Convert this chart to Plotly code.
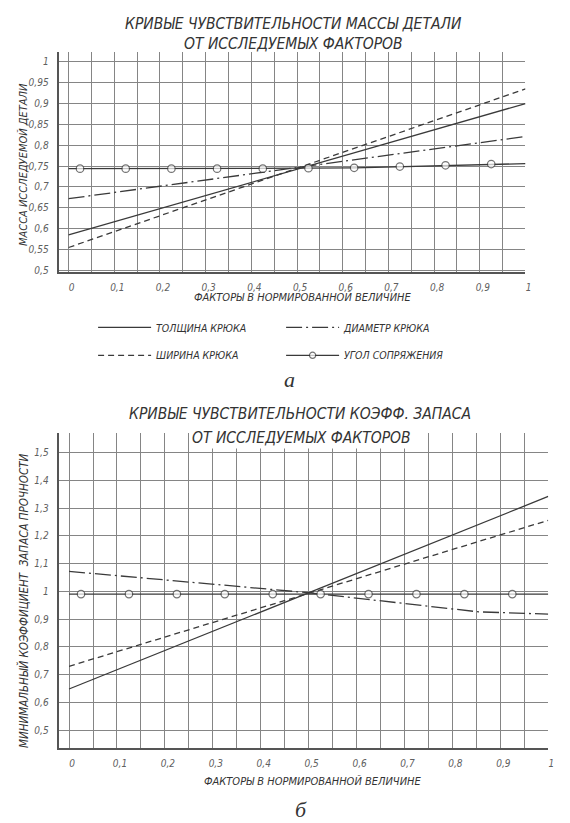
import plotly.graph_objects as go

# ---------------- data ----------------
x_line = [0, 1]

# chart (a): mass of the part
a_thickness = [0.585, 0.900]
a_width = [0.555, 0.935]
a_diameter = [0.672, 0.821]
a_angle_x = [0, 0.025, 0.125, 0.225, 0.325, 0.425, 0.525, 0.625, 0.725, 0.825, 0.925, 1]
a_angle_y = [0.744, 0.744, 0.744, 0.744, 0.744, 0.744, 0.745, 0.746, 0.749, 0.752, 0.755, 0.756]

# chart (б): minimum safety factor
b_thickness = [0.648, 1.342]
b_width = [0.730, 1.256]
b_diameter_x = [0, 0.5, 0.855, 1]
b_diameter = [1.072, 0.995, 0.926, 0.918]
b_angle_x = [0, 0.025, 0.125, 0.225, 0.325, 0.425, 0.525, 0.625, 0.725, 0.825, 0.925, 1]
b_angle_y = [0.99, 0.99, 0.99, 0.99, 0.99, 0.99, 0.99, 0.99, 0.99, 0.99, 0.99, 0.99]

x_tickvals = [0, 0.1, 0.2, 0.3, 0.4, 0.5, 0.6, 0.7, 0.8, 0.9, 1]
x_ticktext = ["0", "0,1", "0,2", "0,3", "0,4", "0,5", "0,6", "0,7", "0,8", "0,9", "1"]
a_y_tickvals = [0.5, 0.55, 0.6, 0.65, 0.7, 0.75, 0.8, 0.85, 0.9, 0.95, 1]
a_y_ticktext = ["0,5", "0,55", "0,6", "0,65", "0,7", "0,75", "0,8", "0,85", "0,9", "0,95", "1"]
b_y_tickvals = [0.5, 0.6, 0.7, 0.8, 0.9, 1.0, 1.1, 1.2, 1.3, 1.4, 1.5]
b_y_ticktext = ["0,5", "0,6", "0,7", "0,8", "0,9", "1", "1,1", "1,2", "1,3", "1,4", "1,5"]

names = ["ТОЛЩИНА КРЮКА", "ДИАМЕТР КРЮКА", "ШИРИНА КРЮКА", "УГОЛ СОПРЯЖЕНИЯ"]

# ---------------- style ----------------
W, H = 570, 823
FONT = "DejaVu Sans Condensed, Liberation Sans Narrow, sans-serif"
LC = "#3a3a3a"
GRID = "#858585"
LW = 1.3
DASH = "6px,4px"
DASHDOT = "16px,4px,2px,4px"

def px(x):
    return x / W

def py(y):
    return 1 - y / H

fig = go.Figure()

marker_sizes = [0] + [7.5] * 10 + [0]

# chart (a)
fig.add_trace(go.Scatter(x=x_line, y=a_thickness, mode="lines", name=names[0],
                         line=dict(color=LC, width=LW), xaxis="x", yaxis="y", legend="legend"))
fig.add_trace(go.Scatter(x=x_line, y=a_diameter, mode="lines", name=names[1],
                         line=dict(color=LC, width=LW, dash=DASHDOT), xaxis="x", yaxis="y", legend="legend"))
fig.add_trace(go.Scatter(x=x_line, y=a_width, mode="lines", name=names[2],
                         line=dict(color=LC, width=LW, dash=DASH), xaxis="x", yaxis="y", legend="legend2"))
fig.add_trace(go.Scatter(x=a_angle_x, y=a_angle_y, mode="lines+markers", name=names[3],
                         line=dict(color=LC, width=LW),
                         marker=dict(symbol="circle", size=marker_sizes, color="white",
                                     line=dict(color=LC, width=1.2)),
                         xaxis="x", yaxis="y", legend="legend2"))

# chart (б)
fig.add_trace(go.Scatter(x=x_line, y=b_thickness, mode="lines", showlegend=False,
                         line=dict(color=LC, width=LW), xaxis="x2", yaxis="y2"))
fig.add_trace(go.Scatter(x=b_diameter_x, y=b_diameter, mode="lines", showlegend=False,
                         line=dict(color=LC, width=LW, dash=DASHDOT), xaxis="x2", yaxis="y2"))
fig.add_trace(go.Scatter(x=x_line, y=b_width, mode="lines", showlegend=False,
                         line=dict(color=LC, width=LW, dash=DASH), xaxis="x2", yaxis="y2"))
fig.add_trace(go.Scatter(x=b_angle_x, y=b_angle_y, mode="lines+markers", showlegend=False,
                         line=dict(color=LC, width=LW),
                         marker=dict(symbol="circle", size=marker_sizes, color="white",
                                     line=dict(color=LC, width=1.2)),
                         xaxis="x2", yaxis="y2"))

tickfont = dict(family=FONT, size=10, color="#606060", style="italic")

def xaxis(domain, anchor):
    return dict(domain=domain, anchor=anchor, range=[-0.02, 1.0],
                tickvals=x_tickvals, ticktext=x_ticktext, tickfont=tickfont,
                showgrid=True, gridcolor=GRID, gridwidth=1,
                minor=dict(dtick=0.05, tick0=0, showgrid=True, gridcolor=GRID, gridwidth=1),
                showline=True, linecolor="#555555", linewidth=1.6,
                zeroline=False, ticks="", ticklabelstandoff=5, ticklabelshift=3,
                fixedrange=True)

def yaxis(domain, anchor, rng, tv, tt):
    return dict(domain=domain, anchor=anchor, range=rng,
                tickvals=tv, ticktext=tt, tickfont=tickfont,
                showgrid=True, gridcolor=GRID, gridwidth=1,
                showline=True, linecolor="#555555", linewidth=1.6,
                zeroline=False, ticks="", ticklabelstandoff=7, fixedrange=True)

legfont = dict(family=FONT, size=10.5, color="#333333", style="italic")

fig.update_layout(
    width=W, height=H,
    margin=dict(l=0, r=0, t=0, b=0),
    paper_bgcolor="white", plot_bgcolor="white",
    font=dict(family=FONT, color="#333333"),
    xaxis=xaxis([px(52), px(523)], "y"),
    yaxis=yaxis([py(265), py(44)], "x", [0.497, 1.024], a_y_tickvals, a_y_ticktext),
    xaxis2=xaxis([px(52), px(546)], "y2"),
    yaxis2=yaxis([py(744), py(427)], "x2", [0.434, 1.571], b_y_tickvals, b_y_ticktext),
    legend=dict(orientation="h", x=px(86), y=py(321), xanchor="left", yanchor="middle",
                entrywidth=120, entrywidthmode="pixels", font=legfont,
                bgcolor="rgba(0,0,0,0)", itemwidth=53),
    legend2=dict(orientation="h", x=px(86), y=py(349), xanchor="left", yanchor="middle",
                 entrywidth=120, entrywidthmode="pixels", font=legfont,
                 bgcolor="rgba(0,0,0,0)", itemwidth=53),
    showlegend=True,
)

def ann(text, x, y, size, angle=0, bg=None, family=FONT, style="italic", color="#333333"):
    d = dict(text=text, x=px(x), y=py(y), xref="paper", yref="paper",
             xanchor="center", yanchor="middle", showarrow=False, textangle=angle,
             font=dict(family=family, size=size, color=color, style=style))
    if bg:
        d["bgcolor"] = bg
    fig.add_annotation(**d)

ann("КРИВЫЕ ЧУВСТВИТЕЛЬНОСТИ МАССЫ ДЕТАЛИ", 289, 16, 15.5)
ann("ОТ ИССЛЕДУЕМЫХ ФАКТОРОВ", 289, 36, 15.5)
ann("МАССА ИССЛЕДУЕМОЙ ДЕТАЛИ", 15, 157, 11, angle=-90)
ann("ФАКТОРЫ В НОРМИРОВАННОЙ ВЕЛИЧИНЕ", 298, 291, 11)
ann("а", 284, 373, 22, family="Liberation Serif, Times New Roman, serif", style="italic")

ann("КРИВЫЕ ЧУВСТВИТЕЛЬНОСТИ КОЭФФ. ЗАПАСА", 295, 408, 15.5)
ann("ОТ ИССЛЕДУЕМЫХ ФАКТОРОВ", 297, 432, 15.5, bg="white")
ann("МИНИМАЛЬНЫЙ КОЭФФИЦИЕНТ  ЗАПАСА ПРОЧНОСТИ", 15, 596, 11.5, angle=-90)
ann("ФАКТОРЫ В НОРМИРОВАННОЙ ВЕЛИЧИНЕ", 308, 777, 11)
ann("б", 296, 805, 22, family="Liberation Serif, Times New Roman, serif", style="italic")

fig.write_html("out.html")
